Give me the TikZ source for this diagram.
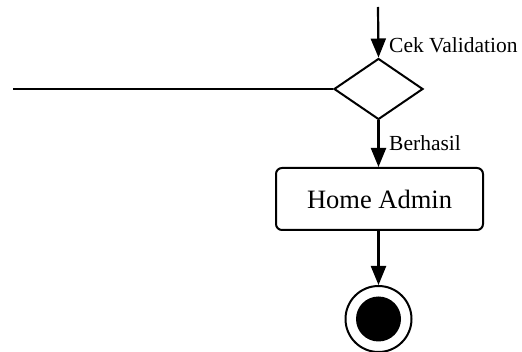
\documentclass[tikz,border=0pt]{standalone}
\usepackage{fontspec}
\setmainfont{Liberation Serif}
\usetikzlibrary{arrows.meta,shapes.geometric}
\begin{document}
\begin{tikzpicture}[x=1pt,y=-1pt,
  flow/.style={line width=2.2pt,-{Triangle[length=19pt,width=15pt]}},
  plain/.style={line width=2.2pt},
  guard/.style={font=\fontsize{21.5}{24}\selectfont,anchor=base west,inner sep=0pt},
  actbox/.style={draw,line width=2pt,rounded corners=6pt,minimum width=207pt,minimum height=62pt,
                 font=\fontsize{26.5}{30}\selectfont,inner sep=0pt},
  decision/.style={draw,line width=2pt,diamond,minimum width=89pt,minimum height=61pt,inner sep=0pt,aspect=1.46}
]
\useasboundingbox (0,0) rectangle (522,352);
\coordinate (start) at (378,7);
\coordinate (loose) at (13,89);
\node[decision] (cek) at (378.5,89) {};
\node[actbox] (home) at (379.5,199) {Home Admin};
\node[draw,circle,line width=2pt,minimum size=66pt,inner sep=0pt] (end) at (378.5,319) {};
\node[fill=black,circle,minimum size=45pt,inner sep=0pt] (endin) at (end) {};
\draw[flow] (start) -- (cek.north);
\draw[plain] (cek.west) -- (loose);
\draw[flow] (cek.south) -- (home.north -| cek.south);
\draw[flow] (home.south -| end.north) -- (end.north);
\node[guard] (lbl1) at (389,53) {Cek Validation};
\node[guard] (lbl2) at (389,151) {Berhasil};
\end{tikzpicture}
\end{document}
